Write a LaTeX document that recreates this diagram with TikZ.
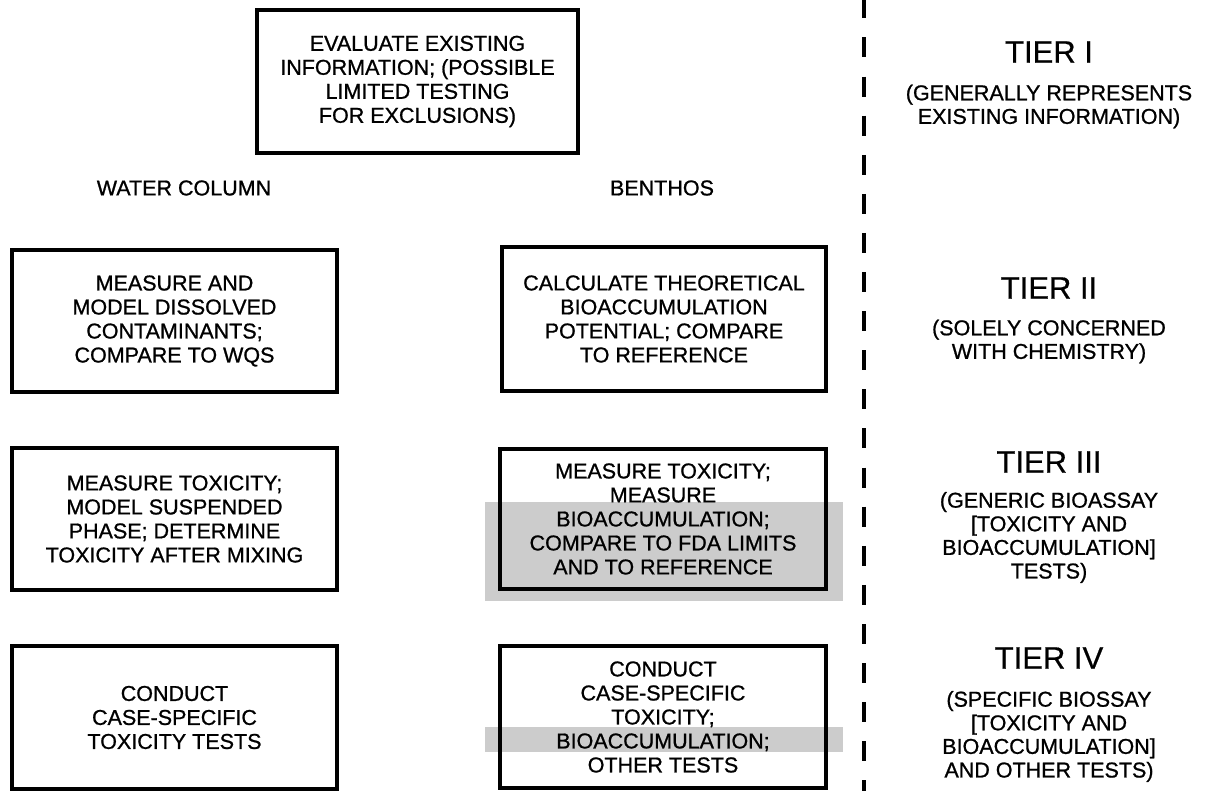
\documentclass[tikz,border=0pt]{standalone}
\usepackage{fontspec}
\setmainfont[FakeBold=0.6]{Liberation Sans}
\newfontfamily\heavytext[FakeBold=0.9]{Liberation Sans}
\begin{document}
\begin{tikzpicture}[x=1pt,y=-1pt,
  box/.style={draw, line width=4pt, inner sep=0pt, align=center,
    font=\heavytext\fontsize{21.5}{24}\selectfont},
  wide/.style={minimum width=325pt},
  colhead/.style={inner sep=0pt, font=\heavytext\fontsize{21.5}{24}\selectfont},
  tiername/.style={inner sep=0pt, font=\fontsize{31}{34}\selectfont},
  tiernote/.style={inner sep=0pt, align=center, font=\heavytext\fontsize{21.5}{23.6}\selectfont},
  halftone/.style={fill=black!20},
  divider/.style={line width=4.7pt, dash pattern=on 20pt off 19.1pt}
]
\useasboundingbox (0,0) rectangle (1208,791);

% shaded bands behind the benthos boxes
\fill[halftone] (485,502) rectangle (843,601);
\fill[halftone] (485,727) rectangle (843,752);

% tier I
\node[box, minimum width=321pt, minimum height=143pt] (eval) at (417.5,81.5)
  {EVALUATE EXISTING\\INFORMATION; (POSSIBLE\\LIMITED TESTING\\FOR EXCLUSIONS)};

% column headings
\node[colhead] (wc) at (184,188) {WATER COLUMN};
\node[colhead] (bn) at (662,188) {BENTHOS};

% tier II
\node[box, wide, minimum height=142pt] (wc2) at (174.5,321)
  {MEASURE AND\\MODEL DISSOLVED\\CONTAMINANTS;\\COMPARE TO WQS};
\node[box, minimum width=324pt, minimum height=144pt] (bn2) at (664,319)
  {CALCULATE THEORETICAL\\BIOACCUMULATION\\POTENTIAL; COMPARE\\TO REFERENCE};

% tier III
\node[box, wide, minimum height=142pt] (wc3) at (174.5,519)
  {MEASURE TOXICITY;\\MODEL SUSPENDED\\PHASE; DETERMINE\\TOXICITY AFTER MIXING};
\node[box, minimum width=326pt, minimum height=140pt] (bn3) at (663,519)
  {MEASURE TOXICITY;\\MEASURE\\BIOACCUMULATION;\\COMPARE TO FDA LIMITS\\AND TO REFERENCE};

% tier IV
\node[box, wide, minimum height=143pt] (wc4) at (174.5,717.5)
  {CONDUCT\\CASE-SPECIFIC\\TOXICITY TESTS};
\node[box, minimum width=326pt, minimum height=142pt] (bn4) at (663,717)
  {CONDUCT\\CASE-SPECIFIC\\TOXICITY;\\BIOACCUMULATION;\\OTHER TESTS};

% dashed divider
\coordinate (dtop) at (864,-1.6);
\coordinate (dbot) at (864,795);
\draw[divider] (dtop) -- (dbot);

% tier descriptions
\node[tiername] (t1) at (1049,52) {TIER I};
\node[tiernote] (t1n) at (1049,106.5) {(GENERALLY REPRESENTS\\EXISTING INFORMATION)};
\node[tiername] (t2) at (1049,288) {TIER II};
\node[tiernote] (t2n) at (1049,341.5) {(SOLELY CONCERNED\\WITH CHEMISTRY)};
\node[tiername] (t3) at (1049,462) {TIER III};
\node[tiernote] (t3n) at (1049,537.5) {(GENERIC BIOASSAY\\{[}TOXICITY AND\\BIOACCUMULATION{]}\\TESTS)};
\node[tiername] (t4) at (1049,658) {TIER IV};
\node[tiernote] (t4n) at (1049,736.5) {(SPECIFIC BIOSSAY\\{[}TOXICITY AND\\BIOACCUMULATION{]}\\AND OTHER TESTS)};
\end{tikzpicture}
\end{document}
